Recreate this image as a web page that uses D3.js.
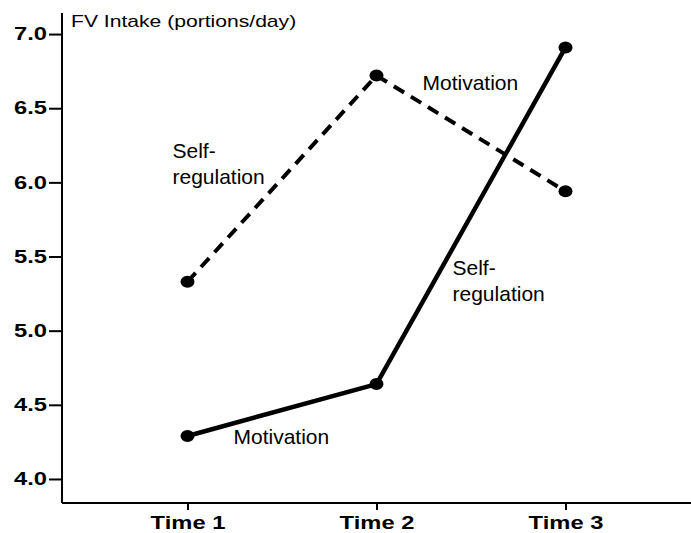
<!DOCTYPE html>
<html>
<head>
<meta charset="utf-8">
<script src="https://cdn.jsdelivr.net/npm/d3@7"></script>
<style>
  body { margin: 0; background: #fff; }
  svg { display: block; font-family: Arial, "Liberation Sans", sans-serif; }
</style>
</head>
<body>
<svg id="chart" width="691" height="533"></svg>
<script>
/* global d3 */
const times = ['Time 1', 'Time 2', 'Time 3'];
const dashedValues = [5.33, 6.72, 5.94];
const solidValues = [4.29, 4.64, 6.91];
const yTicks = [4.0, 4.5, 5.0, 5.5, 6.0, 6.5, 7.0];
const yTitle = 'FV Intake (portions/day)';

function chart() {
  const svg = d3.select('#chart');
  const size = { width: 691, height: 533 };
  const axisX = 62;
  const axisY = 503;
  const stretch = 1.32;

  const x = d3.scalePoint().domain(times).range([axisX, size.width]).padding(0.664);
  const y = d3.scaleLinear().domain([3.838, 7.142]).range([axisY, 13]);

  // stretch axis text horizontally around its anchor, like the original
  function widen(sel) {
    sel.each(function () {
      const t = d3.select(this);
      const tx = +t.attr('x') || 0;
      t.attr('x', 0).attr('transform', `translate(${tx},0) scale(${stretch},1)`);
    });
  }

  const gy = svg.append('g').attr('transform', `translate(${axisX},0)`)
    .call(d3.axisLeft(y).tickValues(yTicks).tickFormat(d3.format('.1f'))
      .tickSize(13).tickPadding(2));
  gy.select('.domain').attr('stroke-width', 2).attr('d', `M0,${axisY}V13`);
  gy.selectAll('.tick line').attr('stroke-width', 2);
  gy.selectAll('.tick text').attr('font-size', 18).attr('font-weight', 'bold')
    .attr('fill', '#000').call(widen);

  const gx = svg.append('g').attr('transform', `translate(0,${axisY})`)
    .call(d3.axisBottom(x).tickSize(7).tickPadding(6));
  gx.select('.domain').attr('stroke-width', 2).attr('d', `M${axisX},0H${size.width}`);
  gx.selectAll('.tick line').attr('stroke-width', 2);
  gx.selectAll('.tick text').attr('font-size', 18).attr('font-weight', 'bold')
    .attr('fill', '#000').call(widen);

  svg.append('text')
    .attr('transform', `translate(${axisX + 9},27) scale(${stretch},1)`)
    .attr('font-size', 16)
    .text(yTitle);

  const line = d3.line().x((d, i) => x(times[i])).y(d => y(d));

  svg.append('path').datum(dashedValues)
    .attr('fill', 'none').attr('stroke', '#000').attr('stroke-width', 4)
    .attr('stroke-dasharray', '12,8')
    .attr('d', line);
  svg.append('path').datum(solidValues)
    .attr('fill', 'none').attr('stroke', '#000').attr('stroke-width', 4.5)
    .attr('d', line);

  [dashedValues, solidValues].forEach((vals) => {
    svg.append('g').selectAll('ellipse')
      .data(vals)
      .join('ellipse')
      .attr('cx', (d, i) => x(times[i]))
      .attr('cy', d => y(d))
      .attr('rx', 7)
      .attr('ry', 6)
      .attr('fill', '#000');
  });

  // segment annotations, placed against the scales
  const notes = [
    { lines: ['Self-', 'regulation'], t: 'Time 1', dx: -15, v: 6.164 },
    { lines: ['Motivation'], t: 'Time 2', dx: 46, v: 6.62 },
    { lines: ['Self-', 'regulation'], t: 'Time 2', dx: 76, v: 5.375 },
    { lines: ['Motivation'], t: 'Time 1', dx: 46, v: 4.236 },
  ];
  const gNotes = svg.append('g').attr('font-size', 21);
  notes.forEach((n) => {
    const txt = gNotes.append('text')
      .attr('x', x(n.t) + n.dx)
      .attr('y', y(n.v));
    txt.selectAll('tspan')
      .data(n.lines)
      .join('tspan')
      .attr('x', x(n.t) + n.dx)
      .attr('dy', (d, i) => (i === 0 ? 0 : 26))
      .text(d => d);
  });
}
chart();
</script>
</body>
</html>
